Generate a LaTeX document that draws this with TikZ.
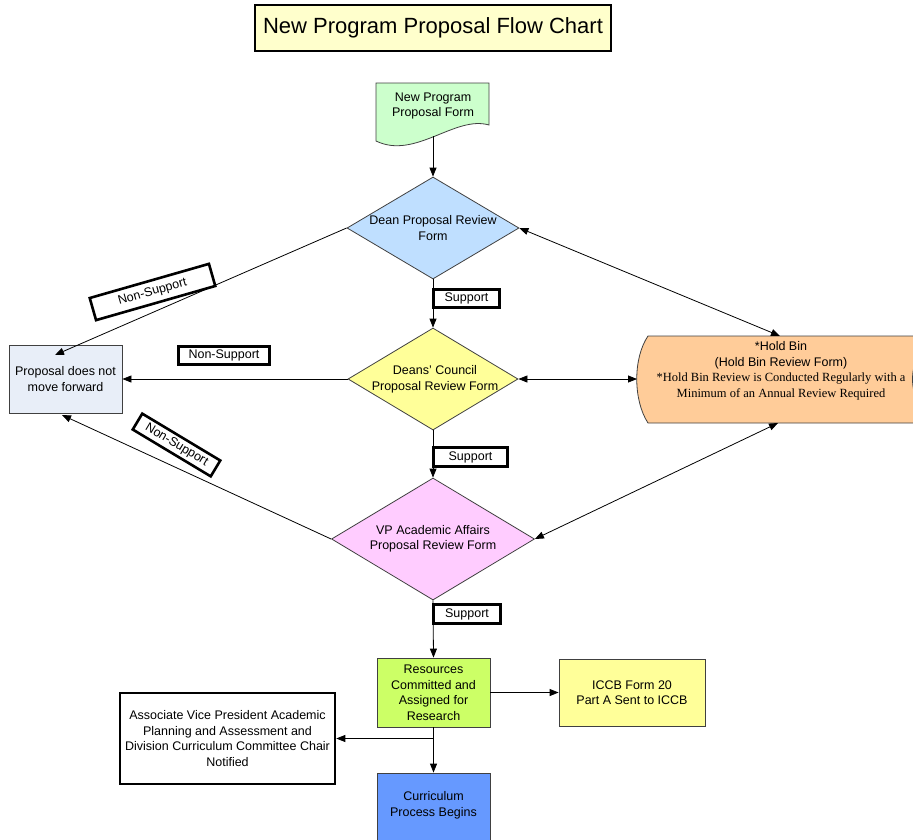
\documentclass[tikz,border=0pt]{standalone}
\usepackage{fontspec}
\setmainfont{Liberation Sans}
\newfontfamily\holdserif{Liberation Serif}
\usetikzlibrary{shapes.geometric, arrows.meta}
\definecolor{titleyellow}{HTML}{FFFFCC}
\definecolor{formgreen}{HTML}{CCFFCC}
\definecolor{deanblue}{HTML}{BFDFFF}
\definecolor{councilyellow}{HTML}{FFFF99}
\definecolor{vppink}{HTML}{FFCCFF}
\definecolor{holdpeach}{HTML}{FFCC99}
\definecolor{stopgrey}{HTML}{E8EEF8}
\definecolor{resgreen}{HTML}{CCFF66}
\definecolor{currblue}{HTML}{6699FF}

\begin{document}
\begin{tikzpicture}[x = 1pt, y = -1pt,
	every node/.style = {font = \fontsize{12.5}{15.5}\selectfont, align = center, inner sep = 0},
	box/.style = {draw = black!75, line width = 0.8pt},
	decision/.style = {diamond, draw = black!75, line width = 0.8pt},
	tag/.style = {draw, line width = 2.6pt, fill = white, minimum height = 18.5},
	flow/.style = {line width = 0.8pt, -{Triangle[length = 9pt, width = 7pt]}},
	both/.style = {line width = 0.8pt, {Triangle[length = 9pt, width = 7pt]}-{Triangle[length = 9pt, width = 7pt]}}]
	\useasboundingbox (0,0) rectangle (913,839);
	\clip (0,0) rectangle (913,839);

	\node [draw, line width = 2.6pt, fill = titleyellow, minimum width = 356, minimum height = 46, font = \fontsize{22}{26}\selectfont] (title) at (433,28) {New Program Proposal Flow Chart};

	\draw [box, fill = formgreen] (376,83) -- (489,83) -- (489,125) .. controls (455,115) and (415,160) .. (376,141) -- cycle;
	\node (npf) at (433,106) {New Program\\Proposal Form};
	\coordinate (npfb) at (433,136);

	\node [decision, fill = deanblue, minimum width = 172, minimum height = 102] (dean) at (433,228) {};
	\node at (dean) {Dean Proposal Review\\Form};
	\node [decision, fill = councilyellow, minimum width = 170, minimum height = 102] (council) at (433,379) {};
	\node at (435,379.5) {Deans' Council\\Proposal Review Form};
	\node [decision, fill = vppink, minimum width = 203, minimum height = 122] (vp) at (433,539) {};
	\node at (vp) {VP Academic Affairs\\Proposal Review Form};

	\draw [box, fill = holdpeach] (648,336) -- (935,336) .. controls (905,358) and (905,400) .. (935,423) -- (648,423) .. controls (633,400) and (633,358) .. (648,336) -- cycle;
	\node (hold) at (781,371) {*Hold Bin\\(Hold Bin Review Form)\\{\holdserif *Hold Bin Review is Conducted Regularly with a}\\{\holdserif Minimum of an Annual Review Required}};
	\coordinate (hbt) at (780,336);
	\coordinate (hbl) at (637,379);
	\coordinate (hbb) at (778,423);

	\node [box, fill = stopgrey, minimum width = 113, minimum height = 68] (nf) at (65.5,379) {Proposal does not\\move forward};
	\coordinate (nfa) at (55,355);
	\coordinate (nfb) at (62,415);

	\node [box, fill = resgreen, minimum width = 113, minimum height = 69] (res) at (433.5,692.5) {Resources\\Committed and\\Assigned for\\Research};
	\node [box, fill = councilyellow, minimum width = 146, minimum height = 67] (iccb) at (632,692.5) {ICCB Form 20\\Part A Sent to ICCB};
	\node [draw, line width = 2.6pt, minimum width = 215, minimum height = 91] (avp) at (227.5,738.5) {Associate Vice President Academic\\Planning and Assessment and\\Division Curriculum Committee Chair\\Notified};
	\node [box, fill = currblue, minimum width = 113, minimum height = 72] (cur) at (433.5,809) {};
	\node at (433.5,805.5) {Curriculum\\Process Begins};

	\node [tag, minimum width = 124, minimum height = 23, rotate = 16] (non1) at (152.5,292) {Non-Support};

	\draw [flow] (npfb) -- (dean.north);
	\draw [flow] (dean.south) -- (council.north);
	\draw [flow] (council.south) -- (vp.north);
	\draw [flow] (vp.south) -- (res.north);
	\draw [flow] (res.east) -- (iccb.west);
	\draw [flow] (res.south) -- (cur.north);
	\draw [flow] (res.south) |- (avp.east);
	\draw [flow] (dean.west) -- (nfa);
	\draw [flow] (council.west) -- (nf.east);
	\draw [flow] (vp.west) -- (nfb);
	\draw [both] (dean.east) -- (hbt);
	\draw [both] (council.east) -- (hbl);
	\draw [both] (vp.east) -- (hbb);

	\node [tag, minimum width = 66.5] (sup1) at (466.5,298.5) {Support};
	\node [tag, minimum width = 74.5] (sup2) at (470.5,457) {Support};
	\node [tag, minimum width = 67.5] (sup3) at (467,614) {Support};
	\node [tag, minimum width = 91.5] (non2) at (224,355.5) {Non-Support};
	\node [tag, minimum width = 91, rotate = -31] (non3) at (176.5,445) {Non-Support};
\end{tikzpicture}
\end{document}
